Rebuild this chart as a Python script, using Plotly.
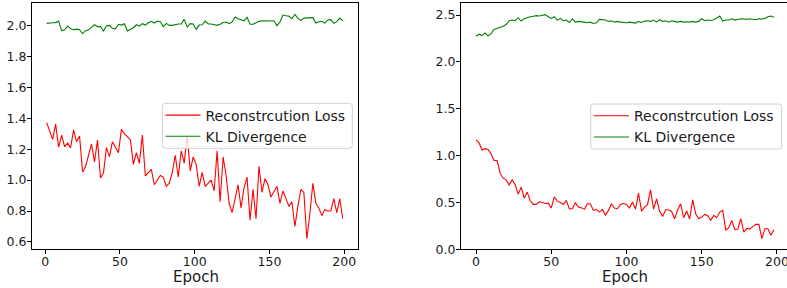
import plotly.graph_objects as go

# ---------------- data ----------------
left_epochs = list(range(1, 200, 2))
left_recon = [
    1.372, 1.31, 1.264, 1.363, 1.214, 1.292, 1.216, 1.240, 1.208, 1.325,
    1.249, 1.286, 1.052, 1.087, 1.163, 1.234, 1.117, 1.260, 1.014, 1.048,
    1.210, 1.152, 1.249, 1.210, 1.178, 1.329, 1.299, 1.281, 1.260, 1.102,
    1.178, 1.109, 1.292, 1.027, 1.050,
    1.07, 0.97, 1.00, 1.03, 1.02, 0.96, 0.98, 1.05, 1.16, 1.02,
    1.19, 1.11, 1.29, 1.06, 1.15, 1.10, 0.96, 1.05, 0.96, 0.98,
    1.00, 0.93, 1.19, 0.86, 1.15, 1.03, 0.85, 0.79, 0.87, 0.97,
    0.82, 0.95, 1.02, 0.74, 0.94, 0.75, 1.09, 0.92, 1.01, 0.97,
    0.89, 0.93, 0.96, 0.85, 0.93, 0.88, 0.83, 0.86, 0.70, 0.83,
    0.94, 0.92, 0.62, 0.78, 0.98, 0.85, 0.82, 0.77, 0.81, 0.80,
    0.80, 0.88, 0.79, 0.88, 0.75,
]
left_kl = [
    2.015, 2.015, 2.019, 2.02, 2.03, 1.968, 1.972, 1.998, 1.98, 1.974,
    1.978, 1.974, 1.948, 1.968, 1.974, 1.989, 2.006, 1.994, 1.994, 1.966,
    2.0, 2.002, 1.983, 1.98, 2.009, 2.004, 2.013, 1.966, 1.978, 1.987,
    2.006, 1.998, 2.013, 2.004, 2.019, 2.028, 2.017, 2.03, 2.026, 1.994,
    2.015, 2.002, 2.002, 2.009, 2.011, 2.011, 2.041, 1.991, 2.013, 2.011,
    1.976, 2.004, 2.006, 2.03, 2.011, 2.011, 2.004, 2.002, 2.009, 2.021,
    2.024, 2.013, 2.024, 2.056, 2.045, 2.037, 2.032, 2.054, 2.009, 2.009,
    2.021, 2.028, 2.032, 2.03, 2.028, 2.03, 2.032, 2.0, 2.024, 2.069,
    2.064, 2.062, 2.045, 2.073, 2.047, 2.034, 2.049, 2.049, 2.049, 2.052,
    2.017, 2.026, 2.028, 2.017, 2.037, 2.039, 2.015, 2.026, 2.049, 2.032,
]

right_epochs = list(range(0, 200, 2))
right_recon = [
    1.167, 1.135, 1.06, 1.074, 1.064, 1.018, 0.947, 0.947, 0.812, 0.759,
    0.741, 0.688, 0.741, 0.691, 0.589, 0.663, 0.546, 0.61, 0.521, 0.479,
    0.479, 0.507, 0.5, 0.489, 0.493, 0.44, 0.56, 0.514, 0.5, 0.479,
    0.521, 0.433, 0.433, 0.496, 0.45, 0.443, 0.426, 0.486, 0.486, 0.415,
    0.426, 0.397, 0.426, 0.365, 0.415, 0.486, 0.44, 0.433, 0.479, 0.489,
    0.479, 0.44, 0.504, 0.429, 0.599, 0.408, 0.45, 0.479, 0.635, 0.429,
    0.539, 0.408, 0.351, 0.422, 0.422, 0.404, 0.326, 0.422, 0.486, 0.337,
    0.408, 0.323, 0.528, 0.379, 0.326, 0.344, 0.372, 0.358, 0.309, 0.362,
    0.337, 0.397, 0.415, 0.202, 0.23, 0.309, 0.209, 0.216, 0.326, 0.184,
    0.223, 0.216, 0.245, 0.266, 0.266, 0.113, 0.22, 0.22, 0.149, 0.209,
]
right_kl = [
    2.273, 2.295, 2.281, 2.309, 2.277, 2.302, 2.345, 2.356, 2.374, 2.381,
    2.399, 2.439, 2.446, 2.439, 2.471, 2.435, 2.46, 2.475, 2.482, 2.486,
    2.493, 2.489, 2.496, 2.504, 2.482, 2.464, 2.482, 2.446, 2.464, 2.439,
    2.446, 2.421, 2.46, 2.424, 2.432, 2.432, 2.424, 2.417, 2.424, 2.41,
    2.417, 2.453, 2.453, 2.446, 2.432, 2.439, 2.424, 2.432, 2.424, 2.421,
    2.417, 2.424, 2.417, 2.414, 2.432, 2.421, 2.435, 2.439, 2.432, 2.446,
    2.424, 2.45, 2.432, 2.439, 2.424, 2.439, 2.432, 2.424, 2.432, 2.424,
    2.428, 2.424, 2.432, 2.424, 2.432, 2.46, 2.439, 2.446, 2.442, 2.45,
    2.468, 2.489, 2.435, 2.446, 2.446, 2.46, 2.446, 2.453, 2.46, 2.457,
    2.453, 2.46, 2.457, 2.45, 2.46, 2.457, 2.464, 2.482, 2.489, 2.475,
]

x_ticks = [0, 50, 100, 150, 200]
left_y_ticks = [0.6, 0.8, 1.0, 1.2, 1.4, 1.6, 1.8, 2.0]
right_y_ticks = [0.0, 0.5, 1.0, 1.5, 2.0, 2.5]
series_names = ["Reconstrcution Loss", "KL Divergence"]
x_title = "Epoch"

# ---------------- figure ----------------
W, H = 787, 288
FONT = "DejaVu Sans"
TXT = "#1a1a1a"
RED = "#ff0000"
GREEN = "#008000"

fig = go.Figure()
fig.add_trace(go.Scatter(x=left_epochs, y=left_recon, mode="lines", name=series_names[0],
                         line=dict(color=RED, width=1.1), xaxis="x", yaxis="y", legend="legend"))
fig.add_trace(go.Scatter(x=left_epochs, y=left_kl, mode="lines", name=series_names[1],
                         line=dict(color=GREEN, width=1.1), xaxis="x", yaxis="y", legend="legend"))
fig.add_trace(go.Scatter(x=right_epochs, y=right_recon, mode="lines", name=series_names[0],
                         line=dict(color=RED, width=1.1), xaxis="x2", yaxis="y2", legend="legend2"))
fig.add_trace(go.Scatter(x=right_epochs, y=right_kl, mode="lines", name=series_names[1],
                         line=dict(color=GREEN, width=1.1), xaxis="x2", yaxis="y2", legend="legend2"))

ydom = [(H - 249.3) / H, (H - 3.3) / H]
axis_common = dict(showgrid=False, zeroline=False, showline=True, linecolor="black", linewidth=1,
                   ticks="outside", ticklen=4, tickcolor="black", tickwidth=1,
                   ticklabeloverflow="allow",
                   tickfont=dict(family=FONT, size=12.5, color=TXT))
x_common = dict(ticklabelstandoff=-3, **axis_common)
y_common = dict(ticklabelstandoff=-2, **axis_common)

legend_common = dict(font=dict(family=FONT, size=14, color=TXT), bgcolor="rgba(0,0,0,0)",
                     borderwidth=0, xanchor="left", yanchor="top",
                     tracegroupgap=0, itemwidth=35)


def rounded_box(x0, y0, x1, y1, r=3):
    """Rounded rectangle path in paper coords from pixel box (top-left origin)."""
    px = lambda v: v / W
    py = lambda v: 1 - v / H
    return (f"M{px(x0 + r)},{py(y0)} L{px(x1 - r)},{py(y0)} Q{px(x1)},{py(y0)} {px(x1)},{py(y0 + r)} "
            f"L{px(x1)},{py(y1 - r)} Q{px(x1)},{py(y1)} {px(x1 - r)},{py(y1)} "
            f"L{px(x0 + r)},{py(y1)} Q{px(x0)},{py(y1)} {px(x0)},{py(y1 - r)} "
            f"L{px(x0)},{py(y0 + r)} Q{px(x0)},{py(y0)} {px(x0 + r)},{py(y0)} Z")


shapes = [
    dict(type="path", xref="paper", yref="paper", path=rounded_box(162.3, 103.3, 352.3, 148.3),
         fillcolor="rgba(255,255,255,0.8)", line=dict(color="#d0d0d0", width=1), layer="above"),
    dict(type="path", xref="paper", yref="paper", path=rounded_box(590.7, 104, 781.7, 149),
         fillcolor="rgba(255,255,255,0.8)", line=dict(color="#d0d0d0", width=1), layer="above"),
]

annotations = [
    dict(text=x_title, xref="paper", yref="paper", x=195.5 / W, y=1 - 277.3 / H,
         xanchor="center", yanchor="middle", showarrow=False,
         font=dict(family=FONT, size=15, color=TXT)),
    dict(text=x_title, xref="paper", yref="paper", x=625 / W, y=1 - 277.3 / H,
         xanchor="center", yanchor="middle", showarrow=False,
         font=dict(family=FONT, size=15, color=TXT)),
]

fig.update_layout(
    width=W, height=H, margin=dict(l=0, r=0, t=0, b=0),
    paper_bgcolor="white", plot_bgcolor="white",
    shapes=shapes, annotations=annotations,
    xaxis=dict(domain=[32 / W, 358.3 / W], range=[-8.8, 209.4], tickvals=x_ticks, anchor="y",
               mirror=True, automargin=False, **x_common),
    yaxis=dict(domain=ydom, range=[0.552, 2.145], tickvals=left_y_ticks, tickformat=".1f",
               anchor="x", mirror=True, automargin=False, **y_common),
    xaxis2=dict(domain=[461 / W, 1.0], range=[-10, 206.7], tickvals=x_ticks, anchor="y2",
                mirror=True, automargin=False, **x_common),
    yaxis2=dict(domain=ydom, range=[0, 2.625], tickvals=right_y_ticks, tickformat=".1f",
                anchor="x2", mirror=False, automargin=False, **y_common),
    legend=dict(x=160.5 / W, y=1 - 99.5 / H, **legend_common),
    legend2=dict(x=589 / W, y=1 - 100.2 / H, **legend_common),
)

fig.write_html("out.html", config={"displayModeBar": False},
               post_script="document.body.style.margin='0';document.body.style.overflow='hidden';")
